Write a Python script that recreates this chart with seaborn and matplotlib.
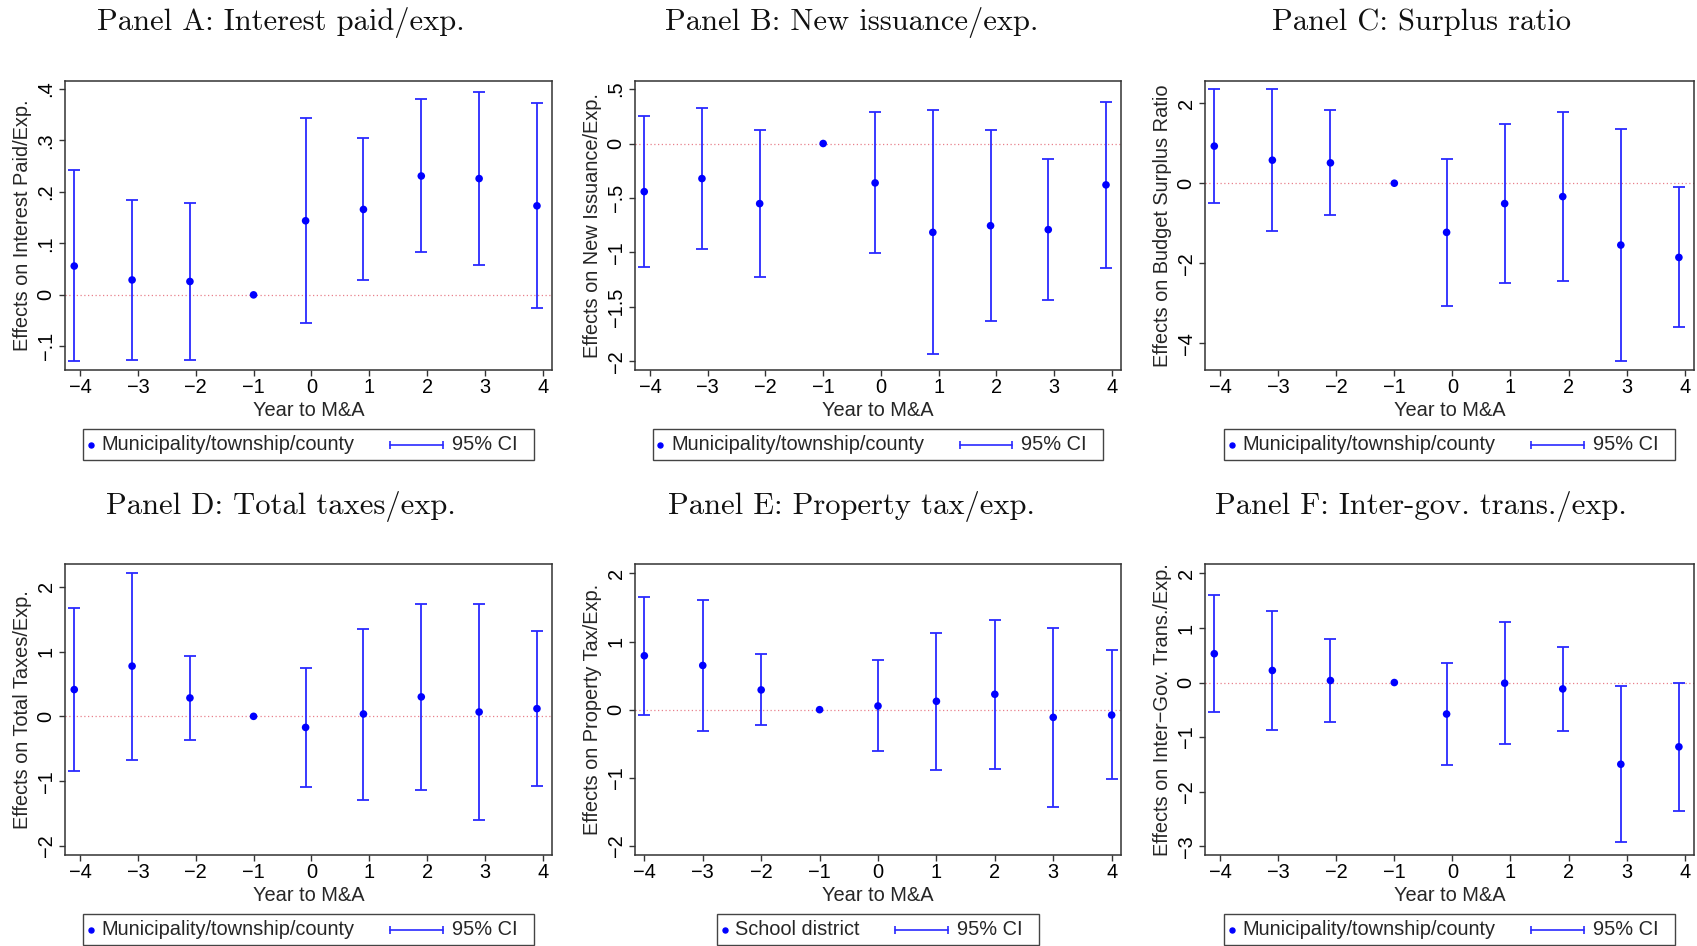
import numpy as np
import pandas as pd
import matplotlib
matplotlib.use("Agg")
import matplotlib.pyplot as plt
import seaborn as sns
from matplotlib.lines import Line2D
from matplotlib.offsetbox import AnchoredOffsetbox, HPacker, TextArea, DrawingArea

# ---------------------------------------------------------------- data
years = [-4, -3, -2, -1, 0, 1, 2, 3, 4]
ref_year = -1  # omitted base year (normalised to zero, no CI)

interest_coef = [0.056, 0.029, 0.026, 0.0, 0.144, 0.166, 0.231, 0.226, 0.173]
interest_lo   = [-0.129, -0.127, -0.127, np.nan, -0.055, 0.029, 0.083, 0.058, -0.025]
interest_hi   = [0.242, 0.185, 0.179, np.nan, 0.344, 0.304, 0.381, 0.394, 0.373]

issuance_coef = [-0.442, -0.322, -0.552, 0.0, -0.362, -0.816, -0.755, -0.791, -0.380]
issuance_lo   = [-1.132, -0.969, -1.230, np.nan, -1.006, -1.933, -1.629, -1.436, -1.141]
issuance_hi   = [0.252, 0.328, 0.126, np.nan, 0.291, 0.304, 0.120, -0.141, 0.383]

surplus_coef = [0.927, 0.576, 0.509, 0.0, -1.228, -0.509, -0.334, -1.545, -1.854]
surplus_lo   = [-0.493, -1.203, -0.802, np.nan, -3.056, -2.488, -2.455, -4.451, -3.599]
surplus_hi   = [2.355, 2.363, 1.829, np.nan, 0.601, 1.470, 1.787, 1.353, -0.092]

taxes_coef = [0.413, 0.775, 0.284, 0.0, -0.171, 0.036, 0.300, 0.067, 0.119]
taxes_lo   = [-0.842, -0.667, -0.367, np.nan, -1.090, -1.287, -1.137, -1.597, -1.075]
taxes_hi   = [1.674, 2.212, 0.930, np.nan, 0.749, 1.354, 1.736, 1.731, 1.313]

proptax_coef = [0.791, 0.649, 0.290, 0.0, 0.054, 0.123, 0.226, -0.113, -0.079]
proptax_lo   = [-0.079, -0.310, -0.221, np.nan, -0.609, -0.880, -0.865, -1.425, -1.022]
proptax_hi   = [1.656, 1.607, 0.811, np.nan, 0.722, 1.130, 1.322, 1.199, 0.870]

transfer_coef = [0.528, 0.221, 0.037, 0.0, -0.577, -0.012, -0.117, -1.497, -1.178]
transfer_lo   = [-0.540, -0.865, -0.724, np.nan, -1.509, -1.129, -0.896, -2.926, -2.356]
transfer_hi   = [1.607, 1.313, 0.798, np.nan, 0.356, 1.117, 0.650, -0.061, 0.000]

titles = ["Panel A: Interest paid/exp.", "Panel B: New issuance/exp.",
          "Panel C: Surplus ratio", "Panel D: Total taxes/exp.",
          "Panel E: Property tax/exp.", "Panel F: Inter-gov. trans./exp."]
ylabels = ["Effects on Interest Paid/Exp.", "Effects on New Issuance/Exp.",
           "Effects on Budget Surplus Ratio", "Effects on Total Taxes/Exp.",
           "Effects on Property Tax/Exp.", "Effects on Inter\u2212Gov. Trans./Exp."]
groups = ["Municipality/township/county", "Municipality/township/county",
          "Municipality/township/county", "Municipality/township/county",
          "School district", "Municipality/township/county"]
yticks = [[-0.1, 0, 0.1, 0.2, 0.3, 0.4],
          [-2, -1.5, -1, -0.5, 0, 0.5],
          [-4, -2, 0, 2],
          [-2, -1, 0, 1, 2],
          [-2, -1, 0, 1, 2],
          [-3, -2, -1, 0, 1, 2]]
ci_label = "95% CI"
xlabel = "Year to M&A"

series = [(interest_coef, interest_lo, interest_hi),
          (issuance_coef, issuance_lo, issuance_hi),
          (surplus_coef, surplus_lo, surplus_hi),
          (taxes_coef, taxes_lo, taxes_hi),
          (proptax_coef, proptax_lo, proptax_hi),
          (transfer_coef, transfer_lo, transfer_hi)]

# ---------------------------------------------------------------- styling
ylims = [(-0.146, 0.4156), (-2.08, 0.574), (-4.668, 2.555),
         (-2.14, 2.351), (-2.133, 2.138), (-3.16, 2.172)]
dodge = [0.1, 0.1, 0.1, 0.1, 0.0, 0.1]   # horizontal nudge of estimates

W, H = 1697, 946
SANS = "Liberation Sans"
SERIF = "cmr10"
FS = 14.4
BLUE = "#0000ff"
CI_BLUE = "#2a2aff"
FRAME = "#333333"

sns.set_style("white")
plt.rcParams["font.family"] = [SANS, "DejaVu Sans"]
plt.rcParams["axes.unicode_minus"] = True


def stata_fmt(v):
    if abs(v) < 1e-12:
        return "0"
    s = f"{abs(v):g}"
    if s.startswith("0."):
        s = s[1:]
    return ("\u2212" if v < 0 else "") + s


# axes boxes in pixels: (left, top, right, bottom)
boxes = [(65, 81, 552, 370), (635, 81, 1121, 370), (1205, 81, 1694, 370),
         (65, 564, 552, 855), (635, 564, 1121, 855), (1205, 564, 1694, 855)]
title_pos = [(281, 30), (852, 30), (1422, 30), (281, 514), (851, 514), (1421, 514)]

fig = plt.figure(figsize=(W / 100, H / 100), dpi=100)
fig.patch.set_facecolor("white")

for i in range(6):
    l, t, r, b = boxes[i]
    ax = fig.add_axes([l / W, 1 - b / H, (r - l) / W, (b - t) / H])
    ax_h = b - t
    ax_w = r - l

    coef, lo, hi = series[i]
    yrs = np.array(years, dtype=float)
    xpos = np.where(yrs == ref_year, yrs, yrs - dodge[i])
    df = pd.DataFrame({"x": xpos, "coef": coef, "lo": lo, "hi": hi})

    # reference line at zero
    ax.axhline(0, color="#e8808c", lw=0.9, ls=(0, (1, 2)), zorder=1)

    # confidence intervals
    ci = df.dropna(subset=["lo", "hi"])
    ax.errorbar(ci["x"], (ci["lo"] + ci["hi"]) / 2,
                yerr=(ci["hi"] - ci["lo"]) / 2, fmt="none",
                ecolor=CI_BLUE, elinewidth=1.3, capsize=4, capthick=1.3, zorder=2)

    # point estimates
    sns.scatterplot(data=df, x="x", y="coef", ax=ax, color=BLUE, s=30,
                    edgecolor="none", zorder=3, legend=False)

    xmin = min(df["x"].min(), min(years)) - 0.16
    xmax = max(df["x"].max(), max(years)) + 0.16
    ax.set_xlim(xmin, xmax)
    ax.set_ylim(*ylims[i])

    ax.set_xticks(years)
    ax.set_xticklabels([stata_fmt(v) for v in years])
    ax.set_yticks(yticks[i])
    ax.set_yticklabels([stata_fmt(v) for v in yticks[i]], rotation=90, va="center")

    ax.tick_params(axis="both", direction="out", length=4.3, width=1.0,
                   color=FRAME, labelsize=FS, labelcolor="black")
    ax.tick_params(axis="x", pad=1.8)
    ax.tick_params(axis="y", pad=2.5)
    ax.tick_params(axis="both", left=True, bottom=True)

    for sp in ax.spines.values():
        sp.set_visible(True)
        sp.set_color(FRAME)
        sp.set_linewidth(1.1)

    ax.set_xlabel(xlabel, fontsize=FS)
    ax.xaxis.set_label_coords(0.5, -31 / ax_h)
    ax.set_ylabel(ylabels[i], fontsize=FS)
    ax.yaxis.set_label_coords(-33.5 / ax_w, 0.5)

    # legend box beneath the panel
    dot_da = DrawingArea(2.4, 14, 0, 0)
    dot_da.add_artist(Line2D([1.2], [7], marker="o", ms=3.6, color=BLUE, lw=0))
    ci_da = DrawingArea(39, 14, 0, 0)
    ci_da.add_artist(Line2D([0.6, 38.4], [7, 7], marker="|", ms=6, mew=1.2,
                            lw=1.2, color=CI_BLUE))
    tail_da = DrawingArea(1.5, 14, 0, 0)
    txt1 = TextArea(groups[i], textprops=dict(fontsize=FS, family=SANS))
    txt2 = TextArea(ci_label, textprops=dict(fontsize=FS, family=SANS))
    left_part = HPacker(children=[dot_da, txt1], align="center", pad=0, sep=6.4)
    right_part = HPacker(children=[ci_da, txt2, tail_da], align="center", pad=0, sep=6.0)
    packed = HPacker(children=[left_part, right_part], align="center", pad=0, sep=25)
    box = AnchoredOffsetbox(loc="upper center", child=packed, pad=0.3, borderpad=0,
                            frameon=True, bbox_to_anchor=(0.5, -59 / ax_h),
                            bbox_transform=ax.transAxes, prop=dict(size=FS))
    box.patch.set_edgecolor("#444444")
    box.patch.set_linewidth(1.0)
    box.patch.set_facecolor("white")
    fig.add_artist(box)

    tx, ty = title_pos[i]
    fig.text(tx / W, 1 - ty / H, titles[i], family=SERIF, fontsize=22,
             ha="center", va="baseline", color="#111111")

fig.savefig("out.png", dpi=100, facecolor="white")
